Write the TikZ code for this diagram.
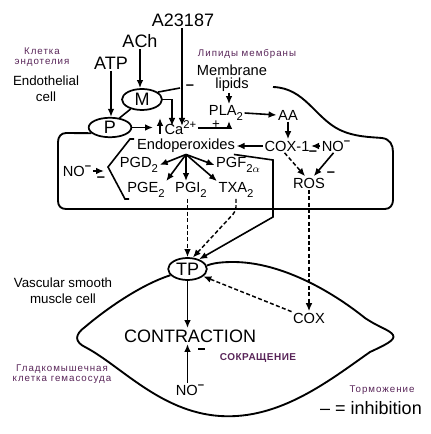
\documentclass[tikz,border=0pt]{standalone}
\usepackage{fontspec}
\setmainfont{Liberation Sans}
\newfontfamily\rusfont[LetterSpace=10]{Liberation Sans}
\newfontfamily\rusbold[LetterSpace=5]{Liberation Sans Bold}
\usetikzlibrary{arrows.meta,shapes.geometric}
\definecolor{rupurple}{RGB}{88,36,88}
\newcommand{\mysub}[1]{\raisebox{-0.3em}{\fontsize{8.5pt}{9pt}\selectfont #1}}
\newcommand{\mysup}[1]{\raisebox{0.42em}{\fontsize{8.5pt}{9pt}\selectfont #1}}
\begin{document}
\begin{tikzpicture}[x=0.75pt,y=-0.75pt,
  big/.style={font=\fontsize{13.5pt}{16pt}\selectfont, inner sep=1pt},
  mid/.style={font=\fontsize{11pt}{13pt}\selectfont, inner sep=1pt},
  lab/.style={font=\fontsize{10pt}{12pt}\selectfont, inner sep=1pt, align=center},
  rus/.style={font=\rusfont\fontsize{7.3pt}{9pt}\selectfont, text=rupurple, inner sep=0pt, align=center},
  inhmark/.style={font=\fontsize{11pt}{13pt}\selectfont\bfseries, inner sep=0pt},
  inhbar/.style={line width=1.6pt},
  ell/.style={draw, ellipse, inner sep=0pt, line width=1.3pt, font=\fontsize{13.5pt}{16pt}\selectfont},
  arr/.style={line width=1.2pt, -{Latex[length=6pt,width=5pt]}},
  darr/.style={line width=1.1pt, dash pattern=on 3pt off 1.8pt, -{Latex[length=6pt,width=5pt]}},
  conn/.style={line width=1.2pt},
  cellline/.style={line width=1.4pt}]
\useasboundingbox (0,0) rectangle (430,434);

% ---------- texts ----------
\node[big] (A) at (183,20) {A23187};
\node[big] (ACh) at (140,41) {ACh};
\node[big] (ATP) at (111,63) {ATP};
\node[rus] (kle) at (42,57) {Клетка\\[-1pt]эндотелия};
\node[lab] (endo) at (46,89) {Endothelial\\cell};
\node[rus] (lip) at (247,54) {Липиды мембраны};
\node[mid, align=center, font=\fontsize{11pt}{9.6pt}\selectfont] (memb) at (232,78) {Membrane\\lipids};

\node[ell, minimum width=30pt, minimum height=15.75pt] (M) at (142,99.5) {M};
\node[ell, minimum width=32pt, minimum height=14.6pt] (P) at (110,127.5) {P};
\node[ell, minimum width=29pt, minimum height=16.5pt] (TP) at (187.5,269) {TP};

\node[mid, anchor=west] (Ca) at (163,128) {Ca\mysup{2+}};
\node[mid] (PLA) at (226,113) {PLA\mysub{2}};
\node[mid, inner sep=0pt, font=\fontsize{10pt}{10pt}\selectfont] (plus) at (216,125) {+};
\node[mid] (AA) at (288,115) {AA};
\node[mid] (COX1) at (287,146) {COX-1};
\node[mid] (NOr) at (336,146) {NO\mysup{\textbf{–}}};
\node[mid] (Endo) at (186,146) {Endoperoxides};
\node[mid] (ROS) at (309,183) {ROS};
\node[mid] (PGD) at (139,165) {PGD\mysub{2}};
\node[mid] (PGF) at (238,165) {PGF\mysub{2$\alpha$}};
\node[mid] (PGE) at (146,190) {PGE\mysub{2}};
\node[mid] (PGI) at (191,190) {PGI\mysub{2}};
\node[mid] (TXA) at (236,190) {TXA\mysub{2}};
\node[mid] (NOl) at (77,171) {NO\mysup{\textbf{–}}};

\node[mid] (COX) at (309,318) {COX};
\node[big] (CON) at (190,336) {CONTRACTION};
\node[mid] (NOb) at (190,390) {NO\mysup{\textbf{–}}};
\node[font=\rusbold\fontsize{7.5pt}{9pt}\selectfont, text=rupurple, inner sep=0pt] (sokr) at (258,358) {СОКРАЩЕНИЕ};
\node[lab] (vsm) at (63,291) {Vascular smooth\\muscle cell};
\node[rus] (glad) at (62,374) {Гладкомышечная\\[-1pt]клетка гемасосуда};
\node[rus] (torm) at (382,390) {Торможение};
\node[big] (inh) at (371,408) {– = inhibition};

% inhibition marks (node placed at baseline, dash sits above it)
\node[inhmark] (m1) at (190,90) {\smash{–}};
\node[inhmark] (m2) at (313,156) {\smash{–}};
\node[inhmark] (m3) at (331,177) {\smash{–}};
\node[inhmark] (m4) at (101,182) {\smash{–}};
\coordinate (m5a) at (198,349);
\coordinate (m5b) at (205,349);
\draw[inhbar] (m5a) -- (m5b);

% ---------- coordinates ----------
\coordinate (caM) at (172,126);
\coordinate (caA) at (182,126);
\coordinate (caL) at (153,127.5);
\coordinate (cab) at (160,134);
\coordinate (cat) at (160,118);
\coordinate (minc) at (180,88);
\coordinate (plaT) at (229,121);
\coordinate (e1) at (273,160);
\coordinate (e2) at (273,217);
\coordinate (t1) at (236,211);
\coordinate (brk) at (104,171);

% ---------- connectors ----------
\draw[arr] (ATP.south) -- (ATP.south |- P.north);
\draw[arr] (ACh.south) -- (ACh.south |- M.north);
\draw[arr] (A.south -| caA) -- (caA);
\draw[arr] (M.east) -| (caM);
\draw[conn] (M.25) -- (minc);
\draw[conn] (M.220) -- (P.45);
\draw[arr] (P.east) -- (caL);
\draw[arr] (cab) -- (cat);
\draw[arr] (Ca.east) -| (plaT);
\draw[arr] (memb.south -| plaT) -- (PLA.north -| plaT);
\draw[arr] (PLA.east) -- (AA.west);
\draw[arr] (AA.south) -- (AA.south |- COX1.north);
\draw[arr] (NOr.west) -- (COX1.east);
\draw[arr] (COX1.west) -- (Endo.east);
\draw[darr] (COX1.250) -- (ROS.120);
\draw[arr] (NOr.250) -- (ROS.55);
\draw[arr] (Endo.south) -- (PGD.east);
\draw[arr] (Endo.south) -- (PGF.west);
\draw[arr] (Endo.south) -- (PGE.north east);
\draw[arr] (Endo.south) -- (Endo.south |- PGI.north);
\draw[arr] (Endo.south) -- (TXA.north west);
\draw[arr] (Endo.-10) -- (e1) -- (e2) -- (TP.40);
\draw[darr, rounded corners=3pt] (TXA.south) -- (t1) -- (TP.65);
\draw[darr] (PGI.south -| TP.north) -- (TP.north);
\draw[darr] (ROS.south) -- (COX.north);
\draw[darr] (COX.160) -- (TP.-25);
\draw[arr] (TP.south) -- (TP.south |- CON.north);
\draw[arr] (NOb.north -| TP.south) -- (CON.south -| TP.south);
\draw[arr] (NOl.east) -- (brk);
\draw[conn] (134,139) -- (130,139) -- (108,167) -- (125,199) -- (129,199);

% ---------- cell outlines ----------
\draw[cellline] (273,87) .. controls (305,88) and (315,118) .. (340,130)
  .. controls (355,137) and (370,137) .. (382,138)
  .. controls (390,139) and (393,145) .. (393,152) -- (393,200)
  .. controls (393,205) and (390,209) .. (385,209) -- (66,209)
  .. controls (61,209) and (58,206) .. (58,201) -- (58,142)
  .. controls (58,137) and (61,133) .. (66,133) -- (P.197);
\draw[cellline] (TP.200) .. controls (140,285) and (105,310) .. (85,327)
  .. controls (74,335) and (75,342) .. (85,347)
  .. controls (120,365) and (160,412) .. (220,416)
  .. controls (280,420) and (330,380) .. (370,352)
  .. controls (385,345) and (396,340) .. (393,335)
  .. controls (390,330) and (380,328) .. (365,318)
  .. controls (330,290) and (280,262) .. (233,262)
  .. controls (222,262) and (213,263) .. (TP.10);
\end{tikzpicture}
\end{document}
